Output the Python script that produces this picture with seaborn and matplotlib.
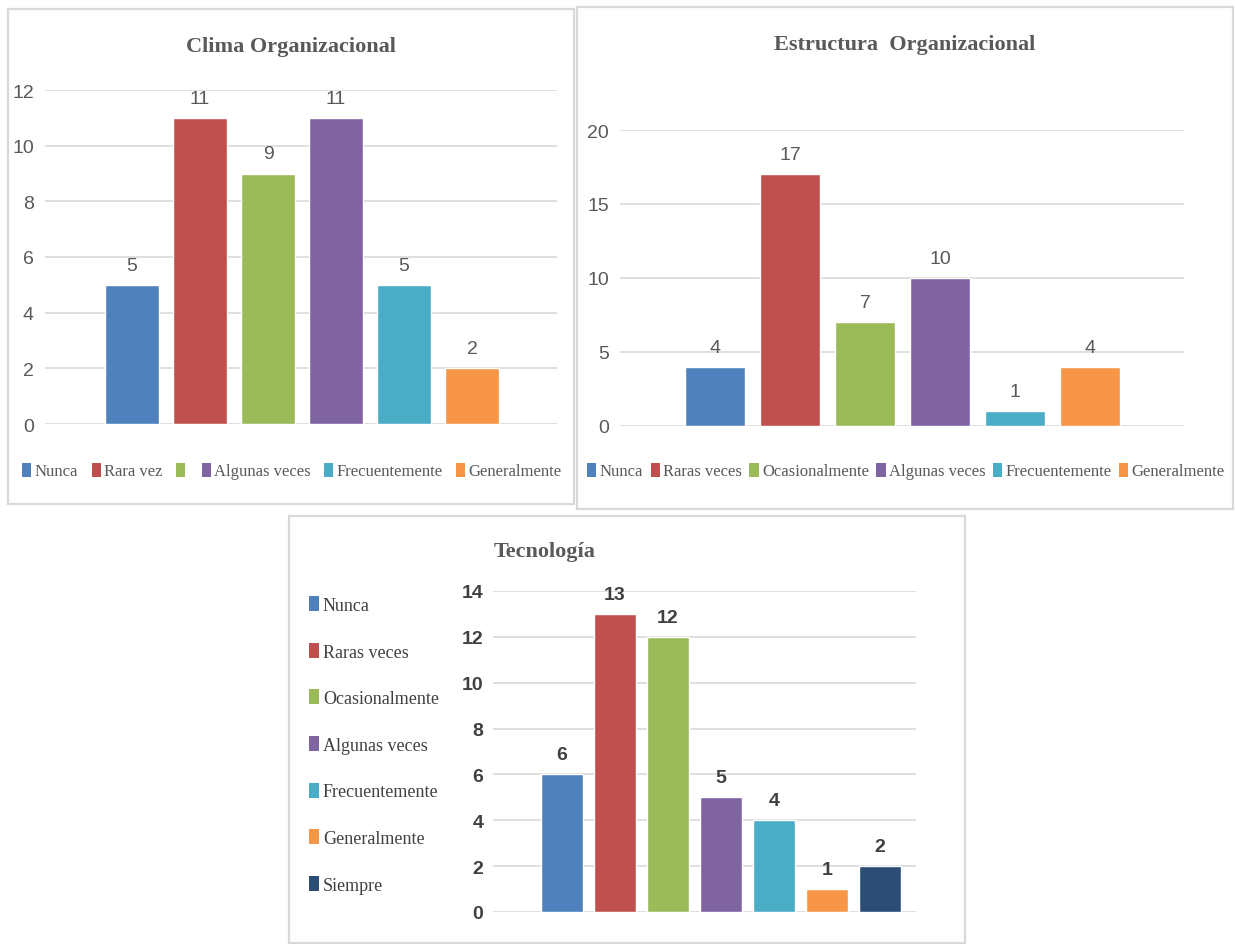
"""
Three Excel-style bar charts: clima, estructura and tecnologia.
"""

import matplotlib
matplotlib.use("Agg")
from matplotlib import pyplot as plt
from matplotlib.patches import Patch, Rectangle
import seaborn as sns

# Data.
clima_labels = ["Nunca", "Rara vez", "", "Algunas veces", "Frecuentemente", "Generalmente"]
clima_values = [5, 11, 9, 11, 5, 2]

estructura_labels = ["Nunca", "Raras veces", "Ocasionalmente", "Algunas veces",
                     "Frecuentemente", "Generalmente"]
estructura_values = [4, 17, 7, 10, 1, 4]

tecnologia_labels = ["Nunca", "Raras veces", "Ocasionalmente", "Algunas veces",
                     "Frecuentemente", "Generalmente", "Siempre"]
tecnologia_values = [6, 13, 12, 5, 4, 1, 2]

clima_yticks = [0, 2, 4, 6, 8, 10, 12]
estructura_yticks = [0, 5, 10, 15, 20]
tecnologia_yticks = [0, 2, 4, 6, 8, 10, 12, 14]

# Office 2010 palette.
COLORS = ["#4F81BD", "#C0504D", "#9BBB59", "#8064A2", "#4BACC6", "#F79646", "#2C4D75"]
GRID = "#D9D9D9"
TEXT = "#595959"
# Numbers are in a narrow sans, the words in a serif.
NUM_FONT = ["Liberation Sans Narrow", "Liberation Sans", "DejaVu Sans"]

sns.set_theme(style="white")
plt.rcParams["font.family"] = ["Liberation Serif", "DejaVu Serif"]

W, H = 1235, 945
fig = plt.figure(figsize=(W / 100, H / 100), dpi=100)


def px_axes(x0, y0, x1, y1):
    """Axes from pixel box (top-left origin)."""
    return fig.add_axes([x0 / W, 1 - y1 / H, (x1 - x0) / W, (y1 - y0) / H])


def frame(x0, y0, x1, y1):
    fig.patches.append(Rectangle((x0 / W, 1 - y1 / H), (x1 - x0) / W, (y1 - y0) / H,
                                 transform=fig.transFigure, fill=False,
                                 edgecolor=GRID, lw=1.6, zorder=0))


def draw(ax, labels, values, yticks, xlim, width, pad, bold=False):
    n = len(labels)
    sns.barplot(x=list(range(n)), y=values, hue=list(range(n)),
                palette=COLORS[:n], legend=False, width=width, ax=ax,
                saturation=1, zorder=3)
    weight = "bold" if bold else "normal"
    color = "#404040" if bold else TEXT
    for cont in ax.containers:
        ax.bar_label(cont, padding=8, fontsize=14, color=color,
                     fontweight=weight, family=NUM_FONT)
    ax.set_xlim(*xlim)
    ax.set_ylim(yticks[0], yticks[-1])
    ax.set_yticks(yticks)
    ax.set_xticks([])
    ax.set_xlabel("")
    ax.set_ylabel("")
    ax.yaxis.grid(True, color=GRID, lw=1.2, zorder=0)
    ax.set_axisbelow(True)
    for side in ["top", "right", "left", "bottom"]:
        ax.spines[side].set_visible(False)
    ax.tick_params(axis="y", length=0, pad=pad, labelsize=14, labelcolor=color)
    for t in ax.get_yticklabels():
        t.set_fontweight(weight)
        t.set_family(NUM_FONT)
    ax.set_facecolor("none")


def handles(labels):
    return [Patch(facecolor=COLORS[i], edgecolor="none", label=lab)
            for i, lab in enumerate(labels)]


# Panel frames.
frame(8, 10, 574, 505)
frame(577, 8, 1233, 510)
frame(289, 517, 965, 944)

# Clima Organizacional.
ax1 = px_axes(45, 91, 557, 425)
draw(ax1, clima_labels, clima_values, clima_yticks, (-1.28, 6.25), 0.79, pad=8)
fig.text(291 / W, 1 - 47 / H, "Clima Organizacional", ha="center", va="center",
         fontsize=16, fontweight="bold", color=TEXT)
fig.legend(handles=handles(clima_labels), loc="center", ncol=6,
           bbox_to_anchor=(292 / W, 1 - 472 / H), frameon=False, fontsize=12,
           handlelength=0.55, handleheight=0.9, handletextpad=0.2, columnspacing=0.8,
           labelcolor=TEXT)

# Estructura Organizacional.
ax2 = px_axes(620, 131, 1184, 427)
draw(ax2, estructura_labels, estructura_values, estructura_yticks, (-1.267, 6.253), 0.8,
     pad=8)
fig.text(905 / W, 1 - 45 / H, "Estructura  Organizacional", ha="center", va="center",
         fontsize=16, fontweight="bold", color=TEXT)
fig.legend(handles=handles(estructura_labels), loc="center", ncol=6,
           bbox_to_anchor=(906 / W, 1 - 472 / H), frameon=False, fontsize=12,
           handlelength=0.55, handleheight=0.9, handletextpad=0.2, columnspacing=0.45,
           labelcolor=TEXT)

# Tecnologia.
ax3 = px_axes(493, 592, 916, 913)
draw(ax3, tecnologia_labels, tecnologia_values, tecnologia_yticks, (-1.30, 6.68), 0.79,
     pad=7, bold=True)
fig.text(545 / W, 1 - 552 / H, "Tecnología", ha="center", va="center",
         fontsize=16, fontweight="bold", color=TEXT)
fig.legend(handles=handles(tecnologia_labels), loc="upper left",
           bbox_to_anchor=(293 / W, 1 - 581 / H), frameon=False, fontsize=13,
           handlelength=0.55, handleheight=0.9, handletextpad=0.2, labelspacing=1.60,
           labelcolor="#404040")

fig.savefig("out.png", dpi=100, facecolor="white")
